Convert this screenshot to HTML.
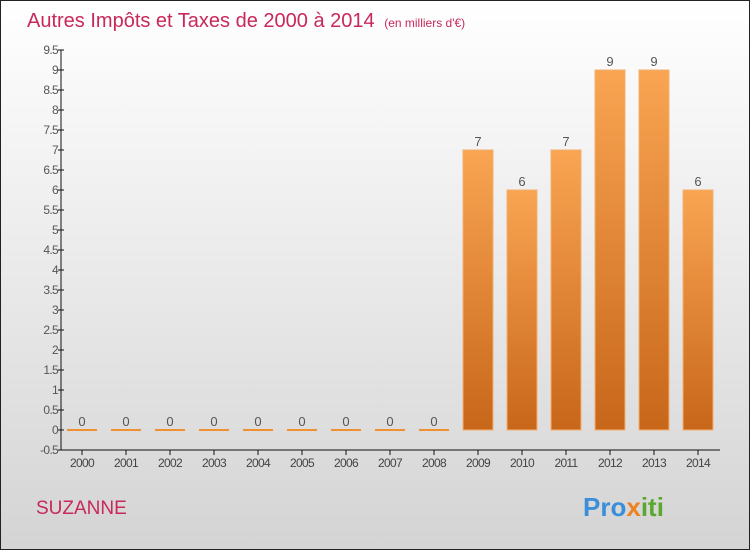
<!DOCTYPE html>
<html><head><meta charset="utf-8"><style>
body{margin:0}
#c{width:750px;height:550px;position:relative;font-family:"Liberation Sans",sans-serif}
</style></head><body>
<div id="c">
<svg width="750" height="550" id="svg">
<defs>
<linearGradient id="bg" x1="0" y1="0" x2="0" y2="1"><stop offset="0" stop-color="#ffffff"/><stop offset="1" stop-color="#d4d4d4"/></linearGradient>
<linearGradient id="bar" x1="0" y1="0" x2="0" y2="1"><stop offset="0" stop-color="#f9a552"/><stop offset="1" stop-color="#c8661a"/></linearGradient>
</defs>
<rect x="0.5" y="0.5" width="749" height="549" fill="url(#bg)" stroke="#222"/>
<text x="27" y="27" font-size="20" fill="#c8285a">Autres Impôts et Taxes de 2000 à 2014 <tspan font-size="12" dx="4">(en milliers d'€)</tspan></text>
<text x="36" y="514" font-size="19" fill="#c8285a">SUZANNE</text>
<text x="583" y="516" font-size="26" font-weight="bold" fill="#3a8fd8">Pro<tspan fill="#f08020">x</tspan><tspan fill="#5aa830">iti</tspan></text>
<g id="g"></g>
</svg>
</div>
<script>
const years=["2000","2001","2002","2003","2004","2005","2006","2007","2008","2009","2010","2011","2012","2013","2014"];
const values=[0,0,0,0,0,0,0,0,0,7,6,7,9,9,6];
const ticks=[-0.5,0,0.5,1,1.5,2,2.5,3,3.5,4,4.5,5,5.5,6,6.5,7,7.5,8,8.5,9,9.5];
const NS="http://www.w3.org/2000/svg";
const g=document.getElementById('g');
const y=v=>430-v*40;
const x=i=>82+i*44;
function mk(t,a){const e=document.createElementNS(NS,t);for(const k in a)e.setAttribute(k,a[k]);g.appendChild(e);return e;}
let ax=mk('line',{x1:61,y1:50,x2:61,y2:450,stroke:'#111'});


let bx=mk('line',{x1:61,y1:450,x2:720,y2:450,stroke:'#111'});


ticks.forEach(t=>{
 let l=mk('line',{x1:58,x2:64,y1:y(t),y2:y(t),stroke:'#111'});
 
 
 let tx=mk('text',{x:58,y:y(t)+4,'font-size':12,fill:'#555','text-anchor':'end','letter-spacing':'-0.7'});
 tx.textContent=String(t);
 
 
});
years.forEach((yr,i)=>{
 let l=mk('line',{x1:x(i),x2:x(i),y1:450,y2:455,stroke:'#111'});
 
 
 let tx=mk('text',{x:x(i),y:467,'font-size':12,fill:'#444','text-anchor':'middle','letter-spacing':'-0.7'});
 tx.textContent=yr;
 
 
 const v=values[i];
 let b;
 if(v===0){b=mk('rect',{x:x(i)-15,y:y(0)-1,width:30,height:2,fill:'#f09030'});}
 else{b=mk('rect',{x:x(i)-15,y:y(v),width:30,height:y(0)-y(v),fill:'url(#bar)',stroke:'#f3b070','stroke-width':1});}
 
 
 let vl=mk('text',{x:x(i),y:y(v)-4,'font-size':13,fill:'#555','text-anchor':'middle'});
 vl.textContent=String(v);
 
 
});
</script>
</body></html>
